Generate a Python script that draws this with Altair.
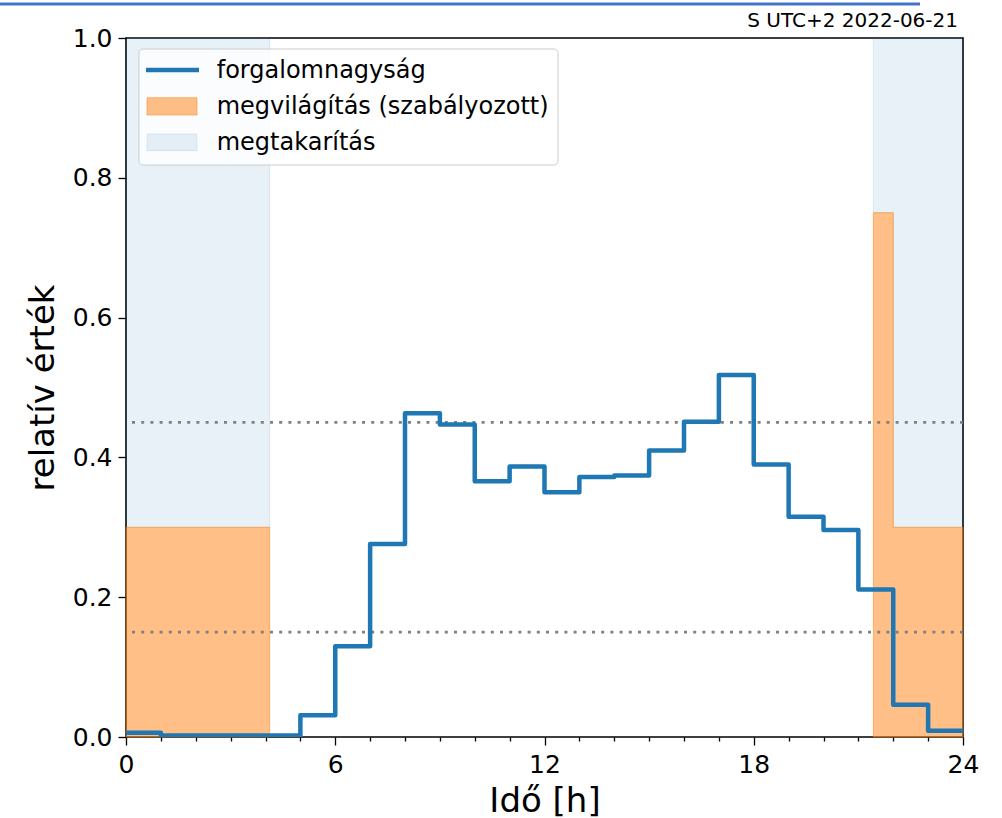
import altair as alt
import pandas as pd

# Hourly traffic volume (relative), one value per hour starting at 0:00
hour_marks = list(range(24))
traffic = [0.006, 0.002, 0.002, 0.002, 0.002, 0.031, 0.130, 0.276, 0.463, 0.447,
           0.366, 0.387, 0.350, 0.372, 0.374, 0.410, 0.451, 0.518, 0.390, 0.315,
           0.296, 0.211, 0.046, 0.009]

# Controlled lighting level as a post-step profile, split into the
# morning and evening lit periods
light_hour = [0.0, 4.12, 21.43, 22.0, 24.0]
light_level = [0.30, 0.30, 0.75, 0.30, 0.30]
light_period = [0, 0, 1, 1, 1]

# Dotted reference levels
guide_levels = [0.15, 0.45]

x_ticks = list(range(25))
y_ticks = [0.0, 0.2, 0.4, 0.6, 0.8, 1.0]

legend_labels = ["forgalomnagyság", "megvilágítás (szabályozott)", "megtakarítás"]
corner_note = "S UTC+2 2022-06-21"
x_title = "Idő [h]"
y_title = "relatív érték"

C0 = "#1f77b4"
C1 = "#ff7f0e"
FONT = "DejaVu Sans"
W, H = 837, 699

step_df = pd.DataFrame({"hour": hour_marks + [24], "value": traffic + [traffic[-1]]})
light_df = pd.DataFrame({"hour": light_hour, "level": light_level, "period": light_period})
light_df["base"] = 0.0
light_df["full"] = 1.0
guide_df = pd.DataFrame({"level": guide_levels})
one_row = pd.DataFrame({"note": [corner_note]})

xs = alt.Scale(domain=[0, 24], nice=False, zero=False)
ys = alt.Scale(domain=[0, 1], nice=False)

x_axis = alt.Axis(
    values=x_ticks,
    format="d",
    labelExpr="datum.value % 6 === 0 ? datum.label : ''",
    tickSize={"condition": {"test": "datum.value % 6 === 0", "value": 8}, "value": 4},
    labelFlush=False,
    labelOverlap=False,
    labelPadding=7,
    grid=False,
    domain=False,
    title=x_title,
    titleX=W / 2,
    titleY=74,
    titleBaseline="alphabetic",
)
y_axis = alt.Axis(
    values=y_ticks,
    format=".1f",
    tickSize=8,
    labelFlush=False,
    labelOverlap=False,
    labelPadding=6,
    grid=False,
    domain=False,
    title=y_title,
    titleX=-73,
    titleY=H / 2,
    titleAngle=-90,
    titleBaseline="alphabetic",
)


def X(field):
    return alt.X(field, type="quantitative", scale=xs, axis=x_axis)


def Y(field):
    return alt.Y(field, type="quantitative", scale=ys, axis=y_axis)


# Savings: the gap between the lighting level and full output
saving = alt.Chart(light_df).mark_area(
    interpolate="step-after", fill=C0, fillOpacity=0.1, stroke=C0, strokeOpacity=0.12, strokeWidth=1
).encode(x=X("hour"), y=Y("level"), y2="full", detail="period:N")

lighting = alt.Chart(light_df).mark_area(
    interpolate="step-after", fill=C1, fillOpacity=0.5, stroke=C1, strokeOpacity=0.5, strokeWidth=1
).encode(x=X("hour"), y=Y("level"), y2="base", detail="period:N")

guides = alt.Chart(guide_df).mark_rule(
    color="#808080", strokeWidth=2.7, strokeDash=[3, 6.2]
).encode(y=Y("level"))

traffic_line = alt.Chart(step_df).mark_line(
    interpolate="step-after", color=C0, strokeWidth=4.5, clip=True, strokeJoin="round"
).encode(x=X("hour"), y=Y("value"))

# Legend drawn in pixel space inside the plot area
box = alt.Chart(one_row).mark_rect(
    cornerRadius=4, fill="white", fillOpacity=0.8, stroke="#cccccc", strokeWidth=1
).encode(x=alt.value(13), x2=alt.value(432), y=alt.value(11), y2=alt.value(127))
leg_line = alt.Chart(one_row).mark_rule(color=C0, strokeWidth=4.5).encode(
    x=alt.value(20), x2=alt.value(73), y=alt.value(32)
)
leg_orange = alt.Chart(one_row).mark_rect(
    fill=C1, fillOpacity=0.5, stroke=C1, strokeOpacity=0.5, strokeWidth=1
).encode(x=alt.value(21), x2=alt.value(71), y=alt.value(59.7), y2=alt.value(77))
leg_blue = alt.Chart(one_row).mark_rect(
    fill=C0, fillOpacity=0.1, stroke=C0, strokeOpacity=0.12, strokeWidth=1
).encode(x=alt.value(21), x2=alt.value(71), y=alt.value(96), y2=alt.value(112.7))

leg_texts = []
for label, base in zip(legend_labels, [40.3, 76.2, 112.4]):
    leg_texts.append(
        alt.Chart(one_row).mark_text(
            text=label, font=FONT, fontSize=24, color="black", align="left", baseline="alphabetic"
        ).encode(x=alt.value(90.7), y=alt.value(base))
    )

note = alt.Chart(one_row).mark_text(
    font=FONT, fontSize=20, color="black", align="right", baseline="alphabetic"
).encode(text="note:N", x=alt.value(832), y=alt.value(-10.7))

top_bar = alt.Chart(one_row).mark_rule(color="#4472c4", strokeWidth=3).encode(
    x=alt.value(-126), x2=alt.value(794), y=alt.value(-34)
)

chart = alt.layer(
    saving, lighting, guides, traffic_line, box, leg_line, leg_orange, leg_blue, *leg_texts, note, top_bar
).properties(
    width=W,
    height=H,
    autosize=alt.AutoSizeParams(type="none"),
    padding={"left": 126, "top": 38, "right": 1002 - 126 - W, "bottom": 818 - 38 - H},
).configure_view(
    stroke="black", strokeWidth=1.6
).configure_axis(
    labelFont=FONT,
    labelFontSize=25,
    labelColor="black",
    tickColor="black",
    tickWidth=1.3,
    titleFont=FONT,
    titleFontSize=34,
    titleFontWeight="normal",
    titleColor="black",
)

chart.save("out.html", embed_options={"renderer": "svg", "actions": False})
